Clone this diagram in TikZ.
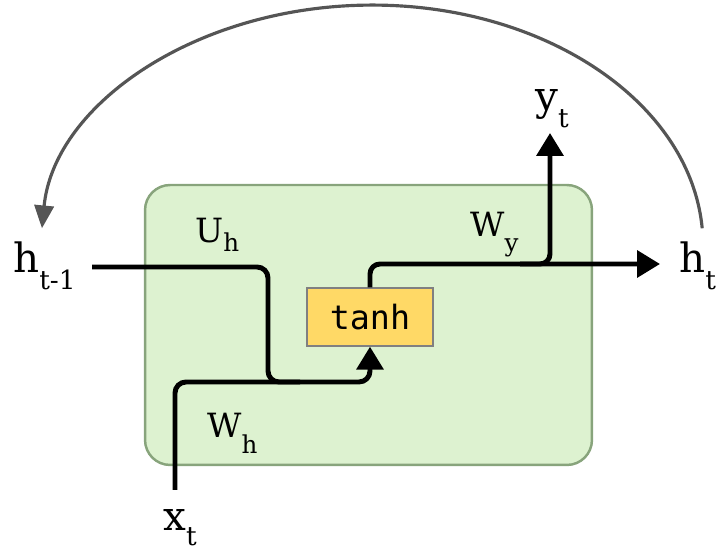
\documentclass[tikz,border=0pt]{standalone}
\usepackage{fontspec}
\setmainfont{DejaVu Serif}
\newfontfamily\codefont{DejaVu Sans Mono}
\usetikzlibrary{arrows.meta}

\definecolor{cellfill}{RGB}{221,242,208}
\definecolor{celledge}{RGB}{136,164,124}
\definecolor{gatefill}{RGB}{255,217,102}
\definecolor{loopgrey}{RGB}{85,85,85}

\newcommand{\outsz}{\fontsize{23}{27}\selectfont}
\newcommand{\insz}{\fontsize{19}{23}\selectfont}
\newcommand{\subsz}{\fontsize{15}{17}\selectfont}
\newcommand{\isubsz}{\fontsize{14}{16}\selectfont}
\newcommand{\lbl}[3][9.5pt]{#2\raisebox{-#1}{\subsz #3}}
\newcommand{\ilbl}[3][8pt]{#2\raisebox{-#1}{\isubsz #3}}

\tikzset{
  wire/.style={line width=2.8pt,black},
  tri/.style={-{Triangle[length=13pt,width=15pt]}},
  lab/.style={inner sep=0pt,anchor=base west},
  cell/.style={draw=celledge,fill=cellfill,line width=1.4pt,rounded corners=.5cm,
    minimum width=8.94cm,minimum height=5.6cm},
  gate/.style={draw=gray,fill=gatefill,line width=.8pt,minimum width=2.52cm,
    minimum height=1.16cm,font=\codefont\fontsize{19}{23}\selectfont},
}

\begin{document}
\begin{tikzpicture}[x=.02cm,y=.02cm]
\useasboundingbox (0,0) rectangle (718,554);

\node[cell] (cell) at (368.5,229) {};
\node[gate] (tanh) at (370,237) {tanh};

% labels
\node[lab] (htm1) at (13,281) {\outsz\lbl{h}{t-1}};
\node[lab] (ht) at (679,281) {\outsz\lbl{h}{t}};
\node[lab] (yt) at (535,443) {\outsz\lbl{y}{t}};
\node[lab] (xt) at (163,23) {\outsz\lbl[8.5pt]{x}{t}};
\node[lab] (uh) at (195,311) {\insz\ilbl[5pt]{U}{h}};
\node[lab] (wh) at (207,116) {\insz\ilbl[9pt]{W}{h}};
\node[lab] (wy) at (470,317) {\insz\ilbl[8pt]{W}{y}};

\coordinate (hin) at (92,287);
\coordinate (xin) at (175,64);
\coordinate (mrg) at (300,172);
\coordinate (hout) at (660,290);
\coordinate (brk) at (520,290);
\coordinate (yout) at (550,421);
\coordinate (loopR) at (702.2,325.7);

\draw[wire,tri,rounded corners=.22cm] (hin) -| (268,172) -| (tanh.south);
\draw[wire,rounded corners=.22cm] (xin) |- (mrg);
\draw[wire,tri,rounded corners=.2cm] (tanh.north) |- (hout);
\draw[wire,tri,rounded corners=.2cm] (brk) -| (yout);

\draw[loopgrey,line width=1.8pt,-{Triangle[length=13pt,width=11pt]}]
  (loopR) arc[start angle=4,end angle=176,x radius=6.62cm,y radius=4.8cm];
\end{tikzpicture}
\end{document}
